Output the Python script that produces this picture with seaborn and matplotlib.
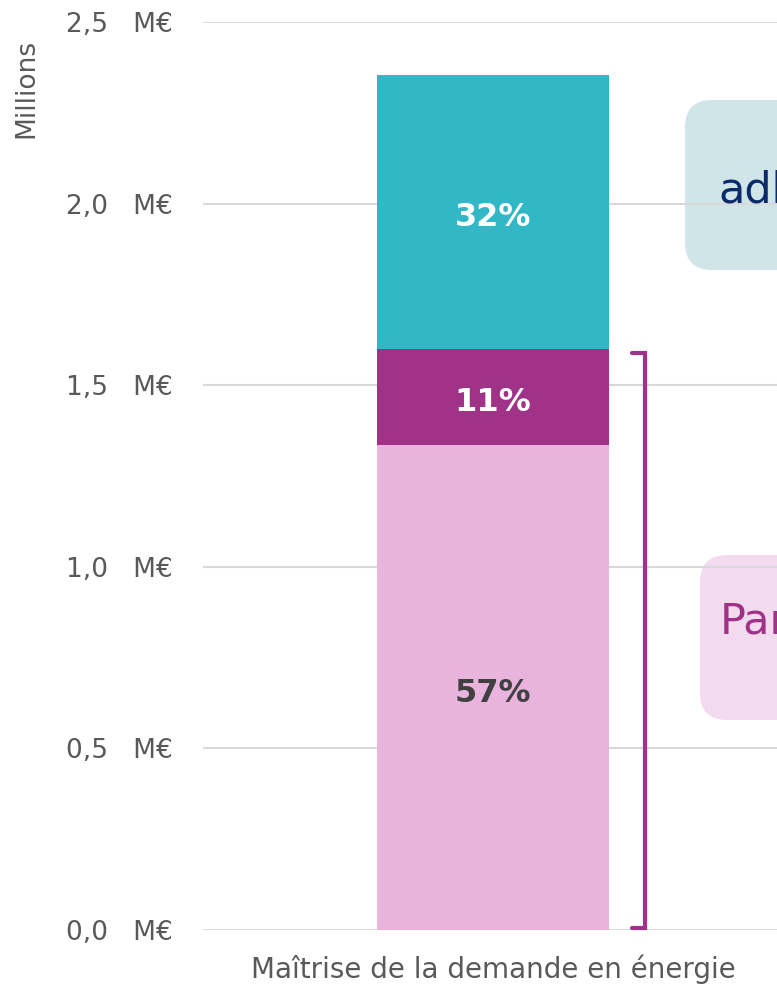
import matplotlib
matplotlib.use("Agg")
import numpy as np
import pandas as pd
import matplotlib.pyplot as plt
import seaborn as sns
from matplotlib.patches import FancyBboxPatch

# data (millions of euros)
category = ["Maîtrise de la demande en énergie"]
segments = ["part_1", "part_2", "part_3"]
values = [1.335, 0.265, 0.755]          # bottom -> top
seg_colors = ["#e8b4de", "#a03288", "#31b7c6"]
label_colors = ["#404040", "white", "white"]
y_ticks = [0.0, 0.5, 1.0, 1.5, 2.0, 2.5]

sns.set_theme(style="white")
plt.rcParams["font.family"] = ["DejaVu Sans"]

grey = "#595959"
fig = plt.figure(figsize=(7.77, 9.88), dpi=100)
ax = fig.add_axes([203/777, 1-930/988, (777-203)/777, (930-22)/988])
ax.patch.set_alpha(0)

cum = np.cumsum(values)
total = cum[-1]
df = pd.DataFrame({"cat": category * len(values), "seg": segments, "top": cum})

# stacked look: draw cumulative bars from tallest to shortest
for i in range(len(values) - 1, -1, -1):
    sns.barplot(data=df.iloc[[i]], x="cat", y="top", color=seg_colors[i],
                saturation=1, width=0.8, linewidth=0, ax=ax, zorder=2)

bottoms = np.concatenate([[0], cum[:-1]])
for v, b, c in zip(values, bottoms, label_colors):
    ax.text(0, b + v / 2 - 0.015, f"{round(v / total * 100):.0f}%", ha="center", va="center",
            fontsize=23, fontweight="bold", color=c, zorder=5)

# bracket on the right of the bar (pink + purple)
bx0, bx1 = 0.479, 0.524
ax.plot([bx0, bx1, bx1, bx0], [cum[1] - 0.01, cum[1] - 0.01, 0.005, 0.005],
        color="#a03288", lw=3, solid_joinstyle="miter", clip_on=False, zorder=4)

ax.set_ylim(0, 2.5)
ax.set_xlim(-1, 0.979)
ax.set_yticks(y_ticks)
ax.set_yticklabels([f"{t:.1f}".replace(".", ",") + "   M€" for t in y_ticks])
ax.yaxis.grid(True, color="#d9d9d9", lw=1.5, zorder=0)
ax.set_axisbelow(True)
for s in ax.spines.values():
    s.set_visible(False)
ax.tick_params(axis="y", length=0, pad=22, labelsize=19, labelcolor=grey)
ax.tick_params(axis="x", length=0, pad=18, labelsize=20, labelcolor=grey)
ax.set_xlabel("")
ax.set_ylabel("Millions", fontsize=19, color=grey)
ax.yaxis.set_label_coords(-0.285, 0.927)

# callouts, cut off at the right edge as in the source
asp = 777 / 988
box1 = FancyBboxPatch((685/777, 1-270/988), 0.4, 170/988,
                      boxstyle="round,pad=0,rounding_size=0.035", mutation_aspect=asp,
                      transform=fig.transFigure, facecolor="#cfe5e8", edgecolor="none", zorder=-1)
box2 = FancyBboxPatch((700/777, 1-720/988), 0.4, 165/988,
                      boxstyle="round,pad=0,rounding_size=0.035", mutation_aspect=asp,
                      transform=fig.transFigure, facecolor="#f2dbee", edgecolor="none", zorder=-1)
fig.patches.extend([box1, box2])
fig.text(718/777, 1-203/988, "adhérents", fontsize=31, color="#0b2a6a", va="baseline")
fig.text(720/777, 1-633/988, "Partenaires", fontsize=31, color="#a03288", va="baseline")

fig.savefig("out.png", dpi=100)
